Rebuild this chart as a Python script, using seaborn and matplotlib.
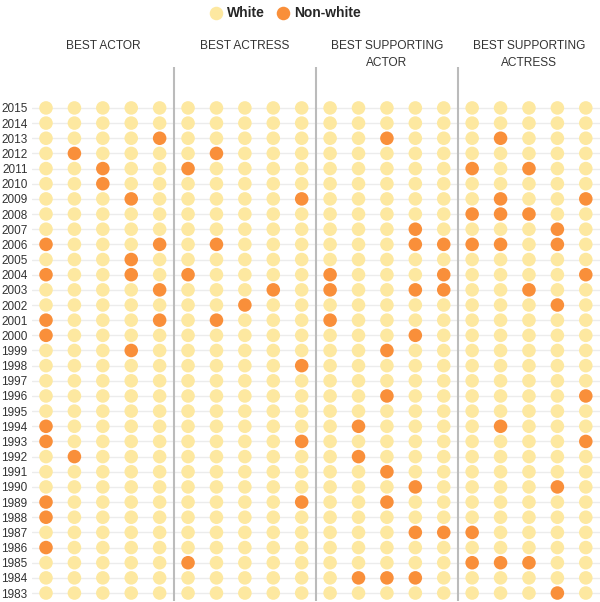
import matplotlib
matplotlib.use('Agg')
import matplotlib.pyplot as plt
import seaborn as sns
import pandas as pd

years = list(range(1983, 2016))
categories = ['BEST ACTOR', 'BEST ACTRESS', 'BEST SUPPORTING\nACTOR', 'BEST SUPPORTING\nACTRESS']
race_labels = ['White', 'Non-white']

# nominee slots (0-4) that were non-white, per year
best_actor = {2013: [4], 2012: [1], 2011: [2], 2010: [2], 2009: [3], 2006: [0, 4],
              2005: [3], 2004: [0, 3], 2003: [4], 2001: [0, 4], 2000: [0], 1999: [3],
              1994: [0], 1993: [0], 1992: [1], 1989: [0], 1988: [0], 1986: [0]}
best_actress = {2012: [1], 2011: [0], 2009: [4], 2006: [1], 2004: [0], 2003: [3],
                2002: [2], 2001: [1], 1998: [4], 1993: [4], 1989: [4], 1985: [0]}
best_supp_actor = {2013: [2], 2007: [3], 2006: [3, 4], 2004: [0, 4], 2003: [0, 3, 4],
                   2001: [0], 2000: [3], 1999: [2], 1996: [2], 1994: [1], 1992: [1],
                   1991: [2], 1990: [3], 1989: [2], 1987: [3, 4], 1984: [1, 2, 3]}
best_supp_actress = {2013: [1], 2011: [0, 2], 2009: [1, 4], 2008: [0, 1, 2], 2007: [3],
                     2006: [0, 1, 3], 2004: [4], 2003: [2], 2002: [3], 1996: [4],
                     1994: [1], 1993: [4], 1990: [3], 1987: [0], 1985: [0, 1, 2], 1983: [3]}

nonwhite = [best_actor, best_actress, best_supp_actor, best_supp_actress]

rows = []
for c, cat in enumerate(categories):
    for y in years:
        for k in range(5):
            race = race_labels[1] if k in nonwhite[c].get(y, []) else race_labels[0]
            rows.append({'slot': c * 5 + k, 'year': y, 'race': race})
df = pd.DataFrame(rows)

sns.set_style('white')
plt.rcParams['font.family'] = ['Liberation Sans', 'DejaVu Sans']

fig = plt.figure(figsize=(6, 6.02), dpi=100)
ax = fig.add_axes([0.053, 0.0023, 0.947, 0.831])

sns.scatterplot(data=df, x='slot', y='year', hue='race', hue_order=race_labels,
                palette=['#fde8a0', '#f98f3a'], s=95, linewidth=0, ax=ax, zorder=3)

ax.set_xlim(-0.5, 19.5)
ax.set_ylim(1982.5, 2015.5)
ax.set_xticks([])
ax.set_yticks(years)
ax.set_yticklabels([str(y) for y in years], fontsize=8.5, color='#333333')
ax.tick_params(axis='y', length=0, pad=3)
ax.set_xlabel('')
ax.set_ylabel('')
for sp in ax.spines.values():
    sp.set_visible(False)
for y in years:
    ax.axhline(y, color='#ececec', linewidth=1, zorder=1)

ax.vlines([4.5, 9.5, 14.5], 1982.5, 2017.7, color='#bbbbbb', linewidth=1.5,
          clip_on=False, zorder=2)

for c, cat in enumerate(categories):
    ax.text(c * 5 + 2, 2019.45, cat, ha='center', va='top', fontsize=8.6,
            color='#333333', linespacing=1.55)

sns.move_legend(ax, 'upper center', bbox_to_anchor=(0.475, 1.01), bbox_transform=fig.transFigure,
                ncol=2, frameon=False, title=None, handlelength=1.0, handletextpad=0.3,
                columnspacing=0.8, prop={'weight': 'bold', 'size': 10}, markerscale=1.0)

fig.savefig('out.png', dpi=100)
